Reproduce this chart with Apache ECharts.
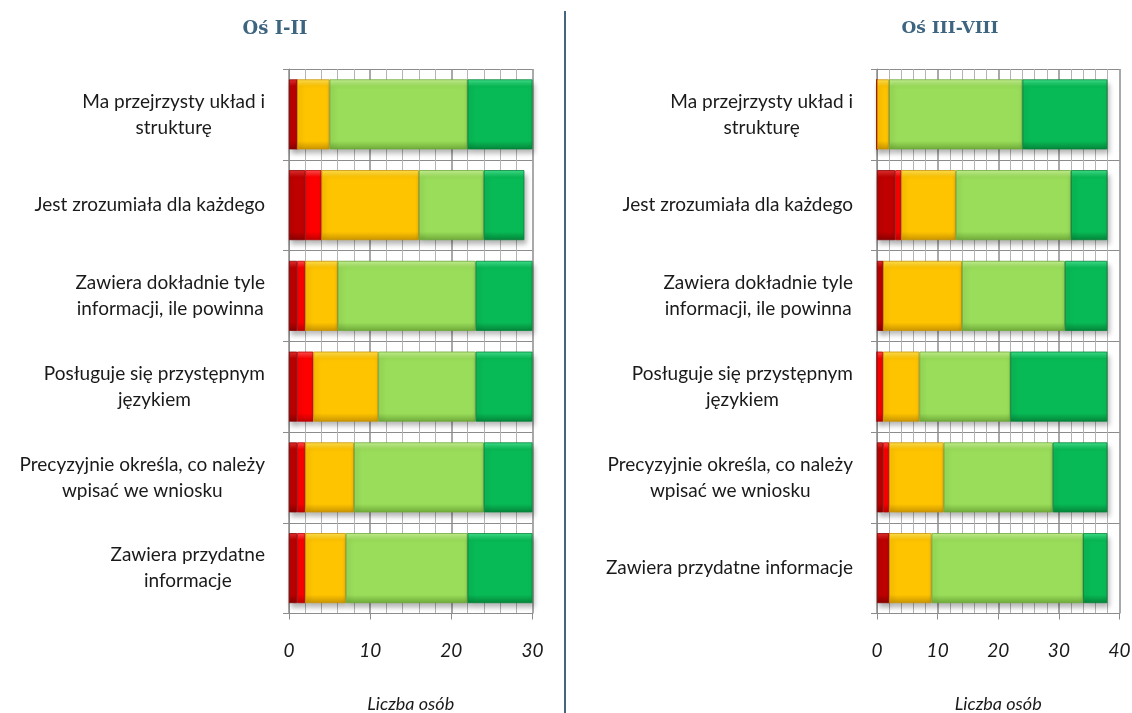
<!DOCTYPE html>
<html>
<head>
<meta charset="utf-8">
<script src="https://cdn.jsdelivr.net/npm/echarts@6/dist/echarts.min.js"></script>
<style>
  html, body { margin: 0; padding: 0; background: #fff; }
  #chart { width: 1132px; height: 713px; }
</style>
</head>
<body>
<div id="chart"></div>
<script>
// Statements rated (top to bottom); line breaks as set for each panel
const categoriesLeft = [
  'Ma przejrzysty układ i\nstrukturę',
  'Jest zrozumiała dla każdego',
  'Zawiera dokładnie tyle\ninformacji, ile powinna',
  'Posługuje się przystępnym\njęzykiem',
  'Precyzyjnie określa, co należy\nwpisać we wniosku',
  'Zawiera przydatne\ninformacje'
];
const categoriesRight = [
  'Ma przejrzysty układ i\nstrukturę',
  'Jest zrozumiała dla każdego',
  'Zawiera dokładnie tyle\ninformacji, ile powinna',
  'Posługuje się przystępnym\njęzykiem',
  'Precyzyjnie określa, co należy\nwpisać we wniosku',
  'Zawiera przydatne informacje'
];

const panelTitles = ['Oś I-II', 'Oś III-VIII'];
const axisName = 'Liczba osób';

// Oś I-II — number of respondents per answer
const leftDefinitelyNo  = [1, 2, 1, 1, 1, 1];
const leftRatherNo      = [0, 2, 1, 2, 1, 1];
const leftNeutral       = [4, 12, 4, 8, 6, 5];
const leftRatherYes     = [17, 8, 17, 12, 16, 15];
const leftDefinitelyYes = [8, 5, 7, 7, 6, 8];

// Oś III-VIII — number of respondents per answer
const rightDefinitelyNo  = [0, 3, 1, 0, 1, 2];
const rightRatherNo      = [0, 1, 0, 1, 1, 0];
const rightNeutral       = [2, 9, 13, 6, 9, 7];
const rightRatherYes     = [22, 19, 17, 15, 18, 25];
const rightDefinitelyYes = [14, 6, 7, 16, 9, 4];

const answerNames = ['Zdecydowanie nie', 'Raczej nie', 'Trudno powiedzieć', 'Raczej tak', 'Zdecydowanie tak'];

const leftMax = 30;
const rightMax = 40;

// fill, light edge, dark edge for each answer
const palette = [
  ['#C00000', '#E03030', '#8A0000'],
  ['#FF0000', '#FF5050', '#C00000'],
  ['#FFC400', '#FFE050', '#C99400'],
  ['#9ADD5A', '#C4F090', '#6FAA3A'],
  ['#08BA55', '#40E08A', '#04853A']
];

function bevel(i) {
  const p = palette[i];
  return new echarts.graphic.LinearGradient(0, 0, 0, 1, [
    { offset: 0, color: p[1] },
    { offset: 0.1, color: p[0] },
    { offset: 0.88, color: p[0] },
    { offset: 1, color: p[2] }
  ]);
}

const labelFont = 'Lato, "Open Sans", sans-serif';

function categoryAxis(gridIndex, cats) {
  return {
    type: 'category',
    gridIndex: gridIndex,
    data: cats,
    inverse: true,
    axisLine: { show: true, lineStyle: { color: '#8c8c8c', width: 1 } },
    axisTick: { show: true, length: 6, lineStyle: { color: '#8c8c8c' } },
    splitLine: { show: true, lineStyle: { color: '#8c8c8c', width: 1 } },
    axisLabel: {
      margin: 24,
      align: 'right',
      formatter: function (v) {
        return v.split('\n').map(function (s) { return '{c|' + s + '}'; }).join('\n');
      },
      rich: {
        c: { align: 'center', fontFamily: labelFont, fontSize: 19, color: '#1a1a1a', lineHeight: 26 }
      }
    }
  };
}

function valueAxis(gridIndex, max) {
  return {
    type: 'value',
    gridIndex: gridIndex,
    min: 0,
    max: max,
    interval: 10,
    name: axisName,
    nameLocation: 'middle',
    nameGap: 82,
    nameTextStyle: { fontFamily: labelFont, fontStyle: 'italic', fontSize: 18, color: '#1a1a1a' },
    axisLine: { show: true, lineStyle: { color: '#8c8c8c', width: 1 } },
    axisTick: { show: true, length: 6, lineStyle: { color: '#8c8c8c' } },
    minorTick: { show: false, splitNumber: 5 },
    splitLine: { show: true, lineStyle: { color: '#8c8c8c', width: 1.5 } },
    minorSplitLine: { show: true, lineStyle: { color: '#b4b4b4', width: 1 } },
    axisLabel: {
      margin: 28,
      fontFamily: labelFont, fontStyle: 'italic', fontSize: 19, color: '#1a1a1a'
    }
  };
}

function panelSeries(gridIndex, arrays) {
  return arrays.map(function (arr, i) {
    return {
      name: answerNames[i],
      type: 'bar',
      stack: 'panel' + gridIndex,
      xAxisIndex: gridIndex,
      yAxisIndex: gridIndex,
      barWidth: 70,
      data: arr,
      itemStyle: {
        color: bevel(i),
        borderColor: palette[i][2],
        borderWidth: 0.8,
        shadowColor: 'rgba(0,0,0,0.3)',
        shadowBlur: 5,
        shadowOffsetX: 2,
        shadowOffsetY: 4
      }
    };
  });
}

const chart = echarts.init(document.getElementById('chart'), null, { renderer: 'canvas' });

chart.setOption({
  animation: false,
  backgroundColor: '#ffffff',
  title: [
    { text: panelTitles[0], left: 270, top: 15, textAlign: 'center',
      textStyle: { fontFamily: '"DejaVu Serif", serif', fontWeight: 'bold', fontSize: 18, color: '#3E6580' } },
    { text: panelTitles[1], left: 945, top: 15, textAlign: 'center',
      textStyle: { fontFamily: '"DejaVu Serif", serif', fontWeight: 'bold', fontSize: 17, color: '#3E6580' } }
  ],
  grid: [
    { left: 289, top: 69, width: 243.5, height: 544.5, containLabel: false, outerBoundsMode: 'none' },
    { left: 877, top: 69, width: 242.5, height: 544.5, containLabel: false, outerBoundsMode: 'none' }
  ],
  xAxis: [valueAxis(0, leftMax), valueAxis(1, rightMax)],
  yAxis: [categoryAxis(0, categoriesLeft), categoryAxis(1, categoriesRight)],
  series: [].concat(
    panelSeries(0, [leftDefinitelyNo, leftRatherNo, leftNeutral, leftRatherYes, leftDefinitelyYes]),
    panelSeries(1, [rightDefinitelyNo, rightRatherNo, rightNeutral, rightRatherYes, rightDefinitelyYes])
  ),
  graphic: [
    { type: 'line', shape: { x1: 565, y1: 11, x2: 565, y2: 713 },
      style: { stroke: '#44677F', lineWidth: 2 } }
  ]
});
</script>
</body>
</html>
